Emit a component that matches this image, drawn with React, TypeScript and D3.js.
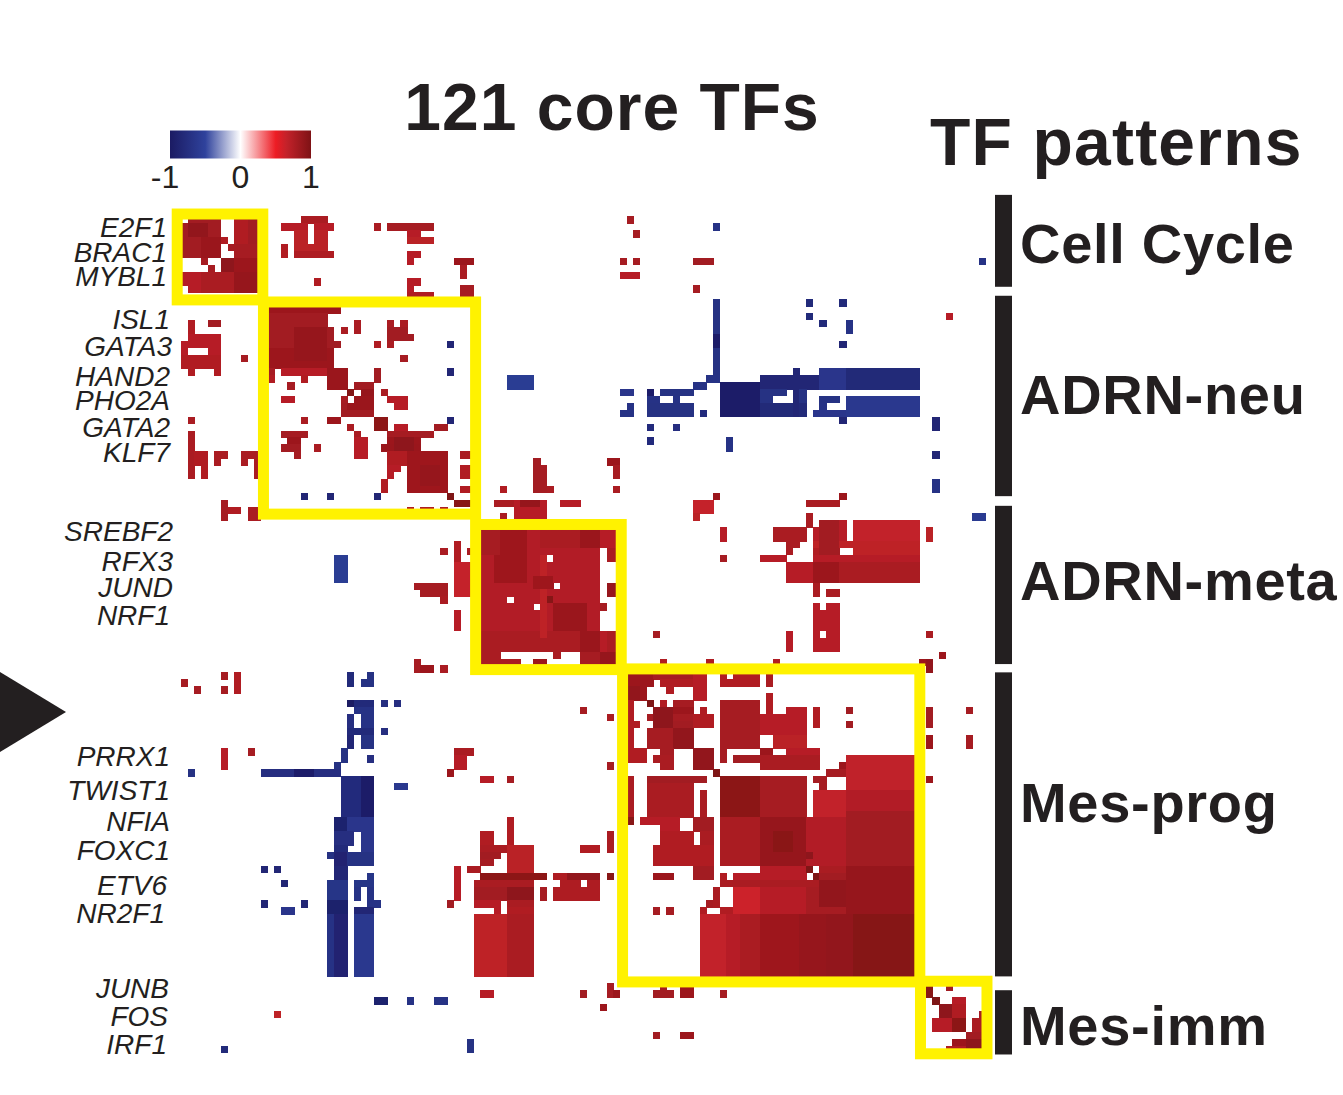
import * as d3 from 'd3'

type Block = [number, number, number, number, number] // rowStart, rowEnd, colStart, colEnd, value (0 carves a hole)

const cellCount = 121
const legendTicks = [-1, 0, 1]
const colorDomain = [-1, -0.5, 0, 0.5, 0.65, 1]
const colorRange = ['#1b1b63', '#2f429c', '#ffffff', '#ed1c24', '#c4222a', '#7e1215']

const geneNames = ['E2F1', 'BRAC1', 'MYBL1', 'ISL1', 'GATA3', 'HAND2', 'PHO2A', 'GATA2', 'KLF7', 'SREBF2', 'RFX3', 'JUND', 'NRF1', 'PRRX1', 'TWIST1', 'NFIA', 'FOXC1', 'ETV6', 'NR2F1', 'JUNB', 'FOS', 'IRF1']
const geneRows = [3, 6.6, 10.1, 16.3, 20.2, 24.5, 28.1, 32, 35.6, 47, 51.4, 55.1, 59.1, 79.5, 84.5, 89, 93.1, 98.2, 102.3, 113.1, 117.2, 121.3]
const geneEnds = [167, 167, 167, 170, 172, 170, 170, 170, 170, 173, 173, 173, 170, 170, 170, 170, 170, 167, 165, 169, 168, 167]

const patternNames = ['Cell Cycle', 'ADRN-neu', 'ADRN-meta', 'Mes-prog', 'Mes-imm']
const patternBarRows = [[-3.1, 10.2], [11.5, 40.5], [41.9, 64.8], [66, 110], [112, 121.3]]
const patternBaselines = [263, 414, 600, 822, 1045]
// yellow cluster frames, in cell units: rowStart, rowEnd, colStart, colEnd
const clusterFrames = [
  [-0.33, 12.1, -0.57, 12.3],
  [12.4, 43.1, 12.4, 44.3],
  [44.6, 65.6, 44.3, 66.2],
  [65.5, 110.8, 66.4, 111.1],
  [110.7, 121.2, 111.2, 121.2],
]

const cellCycleBlocks: Block[] = [
  [0, 5, 0, 5, 0.82], [1, 2, 1, 3, 0.9], [3, 5, 3, 5, 0.86], [3, 3, 6, 6, 0.75], [0, 3, 8, 11, 0.82], [0, 3, 8, 9, 0.75],
  [4, 4, 7, 11, 0.8], [5, 5, 8, 11, 0.8], [6, 6, 3, 3, 0.8], [6, 7, 6, 11, 0.85], [6, 7, 6, 7, 0.92], [7, 7, 4, 4, 0.8],
  [8, 10, 0, 11, 0.72], [8, 10, 3, 7, 0.78], [8, 10, 8, 11, 0.88], [10, 10, 0, 0, 0], [0, 0, 0, 0, 0],
  [0, 0, 18, 21, 0.78], [1, 1, 15, 22, 0.72], [2, 3, 17, 21, 0.7], [1, 3, 19, 19, 0], [4, 4, 15, 15, 0.75], [4, 4, 17, 21, 0.7], [5, 5, 15, 15, 0.75], [5, 5, 17, 22, 0.76],
  [9, 9, 20, 20, 0.75], [1, 1, 29, 29, 0.78], [1, 1, 31, 37, 0.8], [2, 2, 34, 35, 0.72], [3, 3, 34, 37, 0.7],
  [5, 5, 34, 35, 0.72], [6, 6, 34, 34, 0.72], [6, 6, 41, 43, 0.85], [7, 8, 42, 42, 0.78], [9, 9, 34, 35, 0.72], [10, 10, 34, 34, 0.72], [11, 11, 34, 37, 0.75], [10, 11, 42, 43, 0.8],
  [0, 0, 67, 67, 0.8], [2, 2, 68, 68, 0.8], [6, 6, 66, 66, 0.8], [6, 6, 68, 68, 0.8], [8, 8, 66, 68, 0.72], [6, 6, 77, 79, 0.82], [10, 10, 77, 77, 0.8],
]

const adrnNeuBlocks: Block[] = [
  [13, 13, 13, 23, 0.85], [14, 15, 13, 21, 0.82], [16, 17, 13, 22, 0.82], [18, 18, 13, 23, 0.82], [19, 21, 13, 22, 0.85], [16, 20, 17, 21, 0.88],
  [22, 22, 13, 13, 0.8], [22, 22, 15, 21, 0.72], [23, 23, 13, 13, 0.75], [23, 23, 18, 18, 0.75], [22, 24, 22, 24, 0.86],
  [16, 16, 24, 24, 0.78], [15, 16, 26, 26, 0.78], [18, 18, 29, 29, 0.75], [15, 18, 31, 31, 0.78], [15, 15, 33, 33, 0.78], [16, 16, 31, 33, 0.82], [17, 17, 31, 34, 0.82],
  [20, 20, 33, 33, 0.8], [22, 23, 29, 29, 0.82], [24, 24, 16, 16, 0.8], [26, 26, 15, 16, 0.72],
  [24, 24, 26, 28, 0.82], [25, 25, 25, 25, 0.98], [25, 25, 27, 28, 0.88], [26, 26, 24, 24, 0.8], [26, 26, 26, 28, 0.86], [27, 28, 24, 28, 0.82], [27, 27, 25, 28, 0.86],
  [25, 25, 30, 30, 0.78], [26, 26, 31, 33, 0.72], [27, 27, 32, 33, 0.72],
  [29, 29, 18, 18, 0.78], [29, 29, 22, 23, 0.85], [29, 30, 29, 30, 0.93], [30, 30, 25, 25, 0.78], [30, 30, 32, 33, 0.72], [30, 30, 38, 39, 0.82],
  [31, 31, 15, 18, 0.8], [32, 32, 16, 17, 0.85], [33, 33, 15, 17, 0.82], [34, 34, 17, 17, 0.8], [33, 33, 20, 20, 0.78],
  [31, 31, 26, 26, 0.78], [32, 34, 26, 27, 0.72],
  [31, 31, 31, 37, 0.8], [32, 32, 31, 35, 0.85], [33, 33, 30, 35, 0.86], [34, 35, 31, 39, 0.75], [32, 33, 32, 34, 0.92], [36, 36, 31, 32, 0.72], [37, 37, 31, 31, 0.72],
  [34, 39, 34, 39, 0.84], [36, 38, 36, 38, 0.88], [38, 39, 30, 30, 0.75],
  [34, 34, 42, 43, 0.78], [36, 37, 42, 43, 0.75], [39, 39, 42, 43, 0.75], [40, 40, 40, 40, 1], [41, 41, 41, 43, 0.95], [42, 42, 34, 34, 0.75], [42, 42, 36, 37, 0.75], [42, 42, 39, 39, 0.75],
  [15, 16, 1, 1, 0.75], [15, 15, 4, 5, 0.82], [17, 17, 1, 5, 0.72], [18, 18, 0, 5, 0.72], [19, 19, 0, 0, 0.72], [19, 19, 4, 5, 0.72], [20, 21, 0, 5, 0.75], [22, 22, 1, 1, 0.75], [22, 22, 5, 5, 0.75],
  [20, 20, 9, 9, 0.8], [29, 29, 1, 1, 0.78], [31, 37, 1, 1, 0.78], [34, 35, 2, 3, 0.75], [36, 37, 3, 3, 0.75],
  [34, 34, 5, 6, 0.78], [35, 35, 5, 5, 0.78], [34, 34, 9, 11, 0.78], [35, 35, 9, 9, 0.78], [35, 37, 11, 11, 0.78],
  [41, 43, 6, 6, 0.8], [42, 42, 7, 8, 0.75], [42, 43, 10, 11, 0.78],
  [41, 41, 47, 49, 0.78], [41, 43, 50, 54, 0.72], [41, 41, 51, 53, 0.88], [41, 41, 57, 59, 0.72], [43, 43, 48, 48, 0.78], [39, 39, 48, 48, 0.75],
  [35, 39, 53, 53, 0.82], [36, 39, 54, 54, 0.8], [39, 39, 55, 55, 0.78], [35, 35, 64, 65, 0.85], [36, 37, 65, 65, 0.8], [39, 39, 65, 65, 0.78],
  [40, 40, 80, 80, 0.85], [41, 42, 77, 79, 0.65], [43, 43, 77, 77, 0.7], [41, 41, 94, 98, 0.78], [40, 40, 99, 99, 0.85], [43, 44, 94, 94, 0.78], [14, 14, 115, 115, 0.72],
]

const adrnMetaBlocks: Block[] = [
  [45, 62, 45, 62, 0.74], [45, 52, 47, 51, 0.84], [45, 48, 45, 47, 0.8], [56, 60, 56, 60, 0.86], [45, 47, 54, 60, 0.78], [60, 62, 60, 62, 0.86], [60, 62, 45, 59, 0.78], [49, 60, 54, 54, 0.68],
  [52, 53, 53, 55, 0.84], [55, 55, 55, 55, 0.96], [49, 49, 55, 55, 0], [53, 53, 56, 56, 0], [55, 55, 49, 49, 0], [56, 56, 53, 53, 0],
  [45, 47, 63, 65, 0.72], [45, 47, 60, 62, 0.86], [48, 49, 64, 65, 0.78], [53, 54, 64, 65, 0.88], [56, 56, 63, 63, 0.8], [60, 62, 63, 65, 0.72], [60, 62, 64, 65, 0.78],
  [63, 64, 45, 47, 0.78], [64, 64, 48, 50, 0.78], [64, 64, 53, 54, 0.85], [63, 63, 56, 56, 0.78], [63, 64, 60, 65, 0.8], [63, 64, 63, 65, 0.88],
  [47, 49, 41, 41, 0.75], [50, 54, 41, 43, 0.65], [48, 48, 43, 43, 0.78], [48, 48, 39, 39, 0.78], [53, 53, 35, 39, 0.8], [54, 54, 36, 39, 0.8], [55, 55, 39, 39, 0.78], [57, 59, 41, 41, 0.72],
  [64, 65, 35, 35, 0.8], [65, 65, 36, 37, 0.85], [65, 65, 39, 39, 0.78], [71, 71, 60, 60, 0.8], [72, 72, 64, 64, 0.8], [60, 60, 71, 71, 0.8], [64, 64, 72, 72, 0.75], [64, 64, 79, 79, 0.75], [64, 64, 89, 89, 0.75],
  [45, 46, 81, 81, 0.72], [49, 49, 81, 81, 0.8], [49, 49, 87, 90, 0.72], [45, 46, 89, 93, 0.78], [47, 47, 91, 92, 0.78], [48, 48, 91, 91, 0.78],
  [50, 52, 91, 110, 0.72], [50, 52, 95, 98, 0.85], [50, 52, 99, 110, 0.78], [49, 49, 95, 110, 0.72],
  [44, 44, 96, 99, 0.72], [44, 44, 101, 110, 0.66], [45, 46, 95, 99, 0.72], [45, 46, 101, 110, 0.66], [47, 47, 95, 110, 0.68], [48, 48, 95, 98, 0.75], [48, 48, 101, 110, 0.68], [44, 48, 96, 98, 0.82],
  [53, 54, 95, 95, 0.78], [54, 54, 97, 98, 0.78], [56, 62, 95, 98, 0.72], [56, 56, 96, 96, 0], [60, 60, 96, 96, 0], [60, 62, 91, 91, 0.72],
  [45, 46, 112, 112, 0.7], [60, 60, 112, 112, 0.78], [63, 63, 114, 114, 0.85], [64, 65, 112, 112, 0.9], [64, 64, 111, 111, 0.85],
]

const mesProgBlocks: Block[] = [
  [66, 69, 67, 69, 0.85], [66, 67, 70, 70, 0.85], [66, 66, 71, 78, 0.8], [67, 67, 72, 76, 0.75], [66, 69, 77, 78, 0.72], [68, 68, 73, 73, 0.75], [68, 69, 67, 68, 0.9],
  [70, 74, 67, 67, 0.75], [73, 73, 68, 68, 0.75], [75, 76, 67, 67, 0.75], [77, 78, 67, 69, 0.75], [70, 70, 70, 70, 1], [70, 70, 72, 72, 0.75], [70, 70, 74, 76, 0.8], [71, 71, 71, 76, 0.85],
  [71, 71, 78, 78, 0.75], [72, 72, 70, 79, 0.8], [73, 73, 71, 79, 0.82], [74, 76, 70, 76, 0.8], [71, 73, 71, 73, 0.92], [74, 76, 74, 76, 0.9], [72, 73, 77, 79, 0.75],
  [77, 77, 72, 73, 0.8], [78, 78, 71, 73, 0.78], [79, 79, 72, 73, 0.78], [77, 79, 77, 79, 0.9], [80, 80, 80, 80, 1],
  [81, 86, 67, 67, 0.78], [81, 81, 70, 78, 0.82], [82, 86, 70, 76, 0.78], [83, 86, 78, 78, 0.78], [87, 87, 67, 67, 0.95], [87, 87, 69, 74, 0.72], [88, 88, 72, 74, 0.72], [87, 88, 77, 79, 0.82],
  [89, 90, 72, 76, 0.75], [89, 90, 78, 79, 0.78], [91, 93, 71, 79, 0.75], [94, 95, 77, 79, 0.82], [95, 95, 71, 73, 0.85],
  [100, 100, 71, 71, 0.8], [100, 100, 73, 73, 0.8],
  [66, 67, 81, 86, 0.75], [66, 67, 88, 88, 0.78], [66, 66, 82, 82, 0], [69, 71, 88, 88, 0.75], [70, 76, 81, 86, 0.8], [71, 71, 91, 93, 0.72], [72, 74, 87, 93, 0.72], [71, 73, 95, 95, 0.75],
  [75, 76, 89, 93, 0.7], [77, 78, 81, 81, 0.8], [77, 77, 87, 88, 0.85], [77, 77, 91, 95, 0.72], [78, 78, 83, 86, 0.82], [78, 79, 87, 95, 0.78], [79, 79, 99, 99, 0.85], [80, 80, 97, 99, 0.8],
  [78, 85, 100, 110, 0.67], [83, 85, 100, 110, 0.74],
  [81, 86, 81, 86, 0.93], [81, 86, 87, 93, 0.8], [81, 81, 95, 96, 0.8], [82, 82, 96, 96, 0.8], [83, 86, 95, 99, 0.66],
  [86, 93, 100, 110, 0.82], [87, 93, 81, 86, 0.78], [87, 93, 87, 93, 0.88], [89, 91, 89, 91, 0.94], [87, 93, 94, 99, 0.74], [92, 92, 94, 94, 0.92],
  [94, 94, 87, 93, 0.72], [94, 94, 94, 94, 1], [94, 94, 96, 110, 0.78], [95, 95, 81, 81, 0.75], [95, 95, 83, 93, 0.72], [95, 95, 95, 95, 1], [95, 95, 96, 110, 0.82],
  [96, 96, 81, 110, 0.78], [97, 100, 83, 110, 0.8], [97, 100, 83, 86, 0.62], [97, 100, 87, 93, 0.72], [96, 99, 96, 99, 0.9], [94, 100, 100, 110, 0.88],
  [97, 99, 80, 80, 0.78], [99, 99, 79, 79, 0.8], [100, 101, 78, 78, 0.75], [100, 100, 81, 82, 0.75],
  [101, 110, 78, 81, 0.66], [101, 110, 82, 83, 0.72], [101, 110, 84, 86, 0.78], [101, 110, 87, 92, 0.84], [101, 110, 93, 96, 0.88], [101, 110, 97, 100, 0.9], [101, 110, 101, 110, 0.96],
  [71, 71, 100, 100, 0.82], [73, 73, 100, 100, 0.82], [71, 73, 112, 112, 0.82], [71, 71, 118, 118, 0.8], [75, 76, 112, 112, 0.85], [75, 76, 118, 118, 0.8], [81, 81, 112, 112, 0.85],
  [87, 88, 75, 76, 0], [89, 90, 77, 77, 0],
]

const mesLowerBlocks: Block[] = [
  [66, 66, 6, 6, 0.8], [66, 68, 8, 8, 0.75], [67, 67, 0, 0, 0.8], [68, 68, 2, 2, 0.8], [68, 68, 6, 6, 0.8], [77, 79, 6, 6, 0.72], [77, 77, 10, 10, 0.8],
  [77, 77, 41, 43, 0.78], [78, 79, 41, 42, 0.72], [80, 80, 40, 40, 0.85], [72, 72, 64, 64, 0.78], [79, 79, 64, 64, 0.8], [81, 81, 45, 46, 0.72], [81, 81, 49, 49, 0.8],
  [87, 90, 49, 49, 0.75], [89, 90, 45, 46, 0.75], [91, 91, 45, 48, 0.78], [91, 94, 49, 52, 0.7], [92, 92, 45, 47, 0.82], [93, 93, 45, 46, 0.8], [94, 94, 43, 44, 0.8],
  [95, 95, 45, 54, 0.93], [96, 96, 44, 52, 0.78], [97, 98, 44, 52, 0.82], [97, 98, 49, 52, 0.92], [97, 98, 54, 54, 0.8], [99, 99, 44, 47, 0.72], [99, 99, 49, 52, 0.78], [100, 100, 47, 47, 0.72], [100, 100, 49, 52, 0.75],
  [101, 109, 44, 48, 0.68], [101, 109, 49, 52, 0.78],
  [95, 98, 56, 62, 0.76], [95, 95, 58, 62, 0.9], [96, 96, 56, 56, 0], [96, 96, 60, 60, 0], [91, 91, 60, 62, 0.75], [89, 91, 64, 64, 0.78], [95, 95, 64, 64, 0.95],
  [94, 98, 41, 41, 0.72], [94, 94, 43, 44, 0.78], [99, 99, 40, 40, 0.82],
  [111, 112, 64, 64, 0.8], [112, 112, 65, 65, 0.85], [112, 112, 60, 60, 0.82], [114, 114, 63, 63, 0.85], [112, 112, 45, 46, 0.72], [112, 112, 71, 73, 0.82], [111, 111, 72, 72, 0.8], [111, 112, 75, 76, 0.85], [112, 112, 81, 81, 0.8],
  [118, 118, 71, 71, 0.82], [118, 118, 75, 76, 0.85], [115, 115, 14, 14, 0.68],
  [111, 112, 112, 112, 0.95], [111, 111, 115, 115, 0.82],
]

const mesImmBlocks: Block[] = [
  [113, 113, 113, 113, 1], [113, 113, 116, 117, 0.72], [114, 115, 114, 117, 0.75], [114, 115, 114, 115, 0.92], [115, 115, 120, 120, 0.8],
  [116, 117, 113, 117, 0.72], [116, 117, 116, 117, 0.93], [116, 117, 119, 120, 0.78], [118, 118, 118, 120, 0.82], [119, 119, 116, 120, 0.85], [119, 120, 118, 120, 0.92], [120, 120, 115, 117, 0.75],
]

const blueBlocks: Block[] = [
  [1, 1, 80, 80, -0.7], [6, 6, 120, 120, -0.7], [12, 22, 80, 80, -0.72], [17, 18, 80, 80, -0.95], [23, 23, 79, 80, -0.7], [24, 24, 77, 78, -0.7], [23, 24, 49, 52, -0.58],
  [25, 25, 66, 67, -0.65], [25, 25, 70, 70, -0.95], [25, 25, 72, 76, -0.72], [26, 26, 70, 71, -0.7], [26, 26, 74, 74, -0.7], [27, 27, 67, 67, -0.7], [27, 28, 70, 76, -0.72], [28, 28, 66, 67, -0.7], [28, 28, 78, 78, -0.78],
  [30, 30, 70, 70, -0.78], [30, 30, 74, 74, -0.75], [32, 32, 70, 70, -0.78], [32, 33, 82, 82, -0.7],
  [12, 12, 94, 94, -0.8], [12, 12, 99, 99, -0.8], [14, 14, 94, 94, -0.8], [15, 15, 96, 96, -0.8], [15, 16, 100, 100, -0.7], [18, 18, 99, 99, -0.85],
  [22, 22, 92, 92, -0.72], [22, 24, 96, 99, -0.65], [22, 24, 100, 110, -0.82], [23, 24, 87, 95, -0.85],
  [24, 28, 81, 86, -0.96], [25, 28, 87, 93, -0.72], [27, 28, 87, 93, -0.82], [22, 28, 92, 92, -0.85], [25, 25, 91, 91, 0], [26, 26, 89, 91, 0],
  [26, 28, 100, 110, -0.62], [26, 26, 96, 98, -0.72], [27, 27, 96, 96, -0.7], [28, 28, 95, 99, -0.65], [29, 29, 99, 99, -0.85],
  [29, 30, 113, 113, -0.85], [34, 34, 113, 113, -0.85], [38, 39, 113, 113, -0.7], [43, 43, 119, 120, -0.6],
  [18, 18, 40, 40, -0.85], [22, 22, 40, 40, -0.85], [29, 29, 40, 40, -0.85], [40, 40, 18, 18, -0.85], [40, 40, 22, 22, -0.85], [40, 40, 29, 29, -0.85],
  [49, 52, 23, 24, -0.58], [66, 67, 25, 25, -0.8], [67, 67, 27, 28, -0.72], [66, 66, 28, 28, -0.72],
  [70, 70, 25, 28, -0.8], [70, 70, 25, 25, -1], [70, 70, 30, 30, -0.75], [70, 70, 32, 32, -0.75], [71, 71, 26, 28, -0.7], [72, 73, 25, 25, -0.75], [72, 73, 27, 28, -0.7], [74, 74, 25, 28, -0.8], [74, 74, 30, 30, -0.75], [75, 76, 25, 25, -0.85], [75, 76, 27, 28, -0.72],
  [77, 78, 24, 24, -0.72], [78, 78, 28, 28, -0.75], [79, 79, 23, 23, -0.72], [80, 80, 12, 23, -0.75], [80, 80, 17, 19, -0.95], [80, 80, 1, 1, -0.72], [82, 82, 32, 33, -0.62],
  [81, 86, 24, 28, -0.78], [81, 86, 27, 28, -0.96], [87, 88, 23, 28, -0.65], [87, 88, 23, 24, -0.9], [89, 89, 23, 25, -0.75], [89, 91, 27, 28, -0.65], [90, 90, 23, 25, -0.75], [91, 91, 23, 24, -0.8],
  [92, 92, 22, 28, -0.72], [93, 93, 23, 28, -0.72], [92, 96, 23, 24, -0.88], [94, 95, 23, 24, -0.85], [95, 95, 28, 28, -0.68],
  [96, 100, 22, 24, -0.68], [96, 96, 26, 28, -0.68], [97, 98, 26, 26, -0.7], [97, 99, 28, 28, -0.7], [99, 99, 29, 29, -0.7], [100, 100, 26, 28, -0.85], [99, 100, 22, 24, -0.92],
  [101, 109, 22, 22, -0.7], [101, 109, 23, 24, -0.88], [101, 109, 26, 28, -0.62],
  [94, 94, 12, 12, -0.85], [94, 94, 14, 14, -0.85], [96, 96, 15, 15, -0.85], [99, 99, 12, 12, -0.85], [99, 99, 18, 18, -0.85], [100, 100, 15, 16, -0.65],
  [113, 113, 29, 30, -0.9], [113, 113, 34, 34, -0.7], [113, 113, 38, 39, -0.7], [120, 120, 6, 6, -0.8], [119, 120, 43, 43, -0.72],
]

const heatBlocks = [cellCycleBlocks, adrnNeuBlocks, adrnMetaBlocks, mesProgBlocks, mesLowerBlocks, mesImmBlocks, blueBlocks]

const ink = '#231f20'
const sans = '"Liberation Sans", Arial, sans-serif'

export default function App() {
  const x = d3.scaleLinear().domain([0, cellCount]).range([181, 181 + 6.65 * cellCount])
  const y = d3.scaleLinear().domain([0, cellCount]).range([216.3, 216.3 + 6.91 * cellCount])
  const color = d3.scaleLinear<string>().domain(colorDomain).range(colorRange).interpolate(d3.interpolateRgb)
  const legendX = d3.scaleLinear().domain([-1, 1]).range([170, 311])

  // later blocks paint over earlier ones
  const matrix = d3.range(cellCount).map(() => new Array<number>(cellCount).fill(0))
  heatBlocks.flat().forEach(([r0, r1, c0, c1, value]) => {
    for (let r = r0; r <= r1; r++) {
      for (let c = c0; c <= c1; c++) matrix[r][c] = value
    }
  })
  const cells = matrix.flatMap((row, r) => row.map((value, c) => ({ r, c, value }))).filter((d) => d.value !== 0)

  return (
    <svg width={1343} height={1095} style={{ position: 'absolute', left: 0, top: 0, background: '#fff' }} fontFamily={sans}>
      <defs>
        <linearGradient id="legend">
          {colorDomain.map((d, i) => (
            <stop key={d} offset={`${((d + 1) / 2) * 100}%`} stopColor={colorRange[i]} />
          ))}
        </linearGradient>
        <filter id="soft" x="0" y="0" width="100%" height="100%">
          <feGaussianBlur stdDeviation={0.5} />
        </filter>
      </defs>

      <text x={612} y={130} textAnchor="middle" fontSize={66} fontWeight="bold" letterSpacing={1} fill={ink}>121 core TFs</text>
      <text x={930} y={165} fontSize={66} fontWeight="bold" letterSpacing={1.2} fill={ink}>TF patterns</text>

      <rect x={legendX(-1)} y={130.5} width={legendX(1) - legendX(-1)} height={28} fill="url(#legend)" />
      {legendTicks.map((t) => (
        <text key={t} x={legendX(t) - (t === -1 ? 5 : 0)} y={188} textAnchor="middle" fontSize={32} fill={ink}>{t}</text>
      ))}

      <g filter="url(#soft)">
        {cells.map((d) => (
          <rect
            key={`${d.r}-${d.c}`}
            x={x(d.c)}
            y={y(d.r)}
            width={x(d.c + 1) - x(d.c) + 0.5}
            height={y(d.r + 1) - y(d.r) + 0.5}
            fill={color(d.value)}
            shapeRendering="crispEdges"
          />
        ))}
      </g>

      {clusterFrames.map(([r0, r1, c0, c1]) => (
        <rect key={r0} x={x(c0)} y={y(r0)} width={x(c1) - x(c0)} height={y(r1) - y(r0)} fill="none" stroke="#fff200" strokeWidth={11} />
      ))}

      {geneNames.map((name, i) => (
        <text key={name} x={geneEnds[i]} y={y(geneRows[i])} textAnchor="end" fontSize={28} fontStyle="italic" fill={ink}>{name}</text>
      ))}

      <path d="M0,672L66,712L0,752Z" fill={ink} />

      {patternNames.map((name, i) => (
        <g key={name}>
          <rect x={995} y={y(patternBarRows[i][0])} width={17} height={y(patternBarRows[i][1]) - y(patternBarRows[i][0])} fill={ink} />
          <text x={1020} y={patternBaselines[i]} fontSize={56} fontWeight="bold" letterSpacing={0.7} fill={ink}>{name}</text>
        </g>
      ))}
    </svg>
  )
}
